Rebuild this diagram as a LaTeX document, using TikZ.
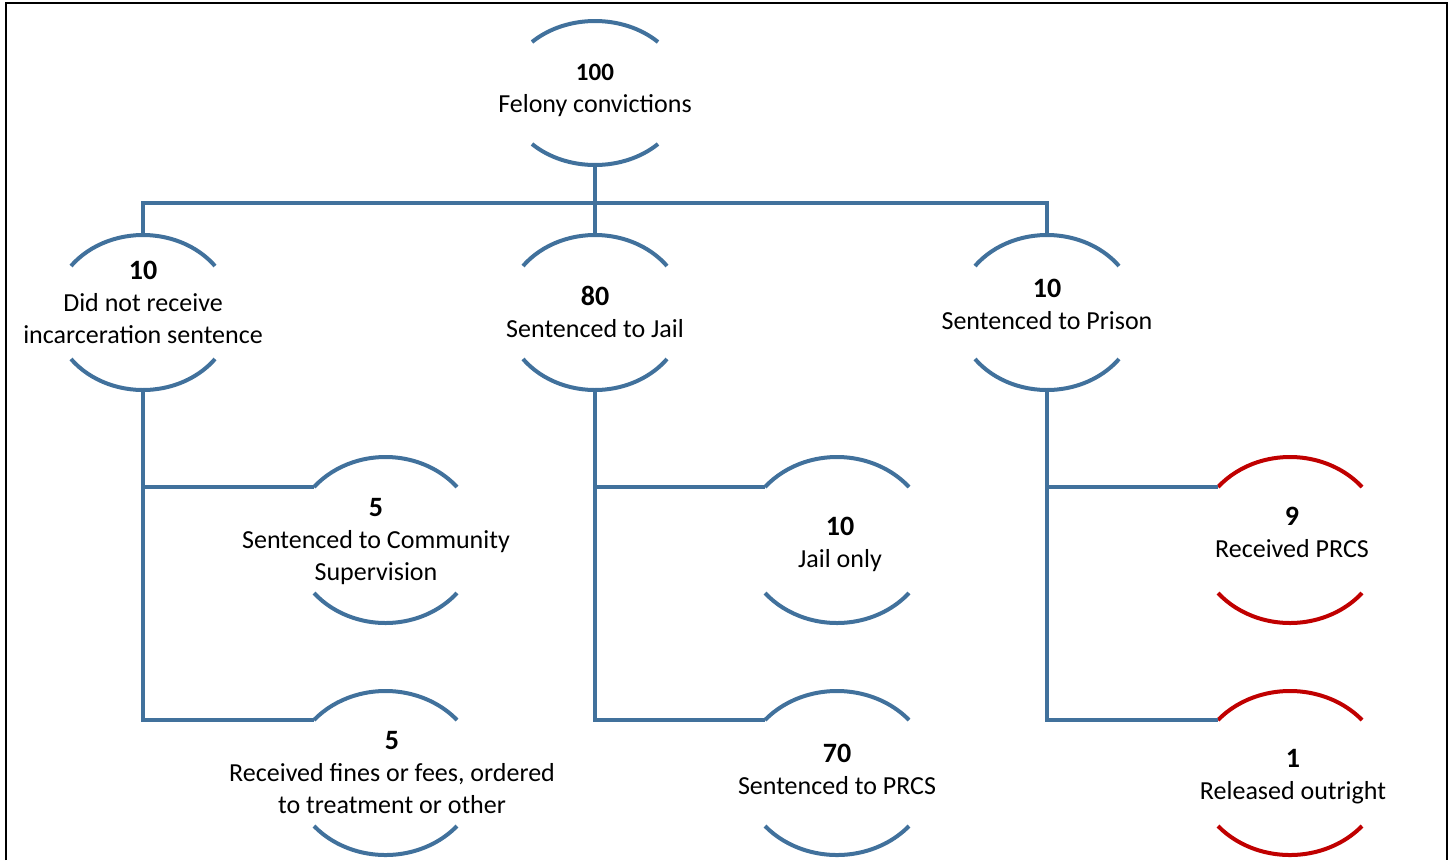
\documentclass[tikz,border=0pt]{standalone}
\usepackage{fontspec}
\setmainfont{Carlito}
\definecolor{arcblue}{RGB}{65,113,156}
\definecolor{arcred}{RGB}{192,0,0}
% name, cx, cy, dx, dy, ry, colour
\newcommand{\halfcirc}[7]{%
  \pgfmathsetmacro{\aang}{asin(#5/#6)}%
  \pgfmathsetmacro{\rxx}{#4/cos(\aang)}%
  \coordinate (#1) at (#2,#3);
  \coordinate (#1-n) at (#2,#3-#6);
  \coordinate (#1-s) at (#2,#3+#6);
  \coordinate (#1-nw) at (#2-#4,#3-#5);
  \coordinate (#1-sw) at (#2-#4,#3+#5);
  \draw[arcline,draw=#7] (#1-nw) arc[start angle=180-\aang, end angle=\aang, x radius=\rxx pt, y radius=#6 pt];
  \draw[arcline,draw=#7] (#1-sw) arc[start angle=180+\aang, end angle=360-\aang, x radius=\rxx pt, y radius=#6 pt];
}
\newcommand{\numb}[1]{{\fontsize{28}{32}\selectfont\bfseries #1}}
\begin{document}
\begin{tikzpicture}[x=1pt,y=-1pt,
  conn/.style={draw=arcblue,line width=4pt},
  arcline/.style={line width=4pt},
  lbl/.style={align=center,font=\fontsize{26}{32}\selectfont,inner sep=0pt,text=black}]
\useasboundingbox (0,0) rectangle (1454,860);
% frame
\draw[line width=2.5pt,black] (6,860) -- (6,3) -- (1447,3) -- (1447,860);
% arc pairs
\halfcirc{t}{595}{93}{63}{51}{72}{arcblue}
\halfcirc{a}{143}{312.5}{72}{46.5}{77.5}{arcblue}
\halfcirc{b}{595}{312.5}{72}{46.5}{77.5}{arcblue}
\halfcirc{c}{1047}{312.5}{72}{46.5}{77.5}{arcblue}
\halfcirc{a1}{385.5}{540}{71.5}{53}{83}{arcblue}
\halfcirc{a2}{385.5}{773}{71.5}{53}{82}{arcblue}
\halfcirc{b1}{837}{540}{72}{53}{83}{arcblue}
\halfcirc{b2}{837}{773}{72}{53}{82}{arcblue}
\halfcirc{c1}{1290}{540}{72}{53}{83}{arcred}
\halfcirc{c2}{1290}{773}{72}{53}{82}{arcred}
% bus
\coordinate (buse) at (1047,203);
\draw[conn] (t-s) -- (b-n);
\draw[conn] (a-n) |- (buse) -- (c-n);
\draw[conn] (a1-nw) -| (a-s);
\draw[conn] (a-s) |- (a2-nw);
\draw[conn] (b1-nw) -| (b-s);
\draw[conn] (b-s) |- (b2-nw);
\draw[conn] (c1-nw) -| (c-s);
\draw[conn] (c-s) |- (c2-nw);
% labels
\node[lbl] (tl) at (595,90) {{\fontsize{25}{32}\selectfont\bfseries 100}\\Felony convictions};
\node[lbl] (al) at (143,302) {\numb{10}\\Did not receive\\incarceration sentence};
\node[lbl] (bl) at (595,312) {\numb{80}\\Sentenced to Jail};
\node[lbl] (cl) at (1047,304) {\numb{10}\\Sentenced to Prison};
\node[lbl] (a1l) at (376,542) {\numb{5}\\Sentenced to Community\\Supervision};
\node[lbl] (a2l) at (392,773) {\numb{5}\\Received fines or fees, ordered\\to treatment or other};
\node[lbl] (b1l) at (840,544.5) {\numb{10}\\Jail only};
\node[lbl] (b2l) at (837,769) {\numb{70}\\Sentenced to PRCS};
\node[lbl] (c1l) at (1292,532.5) {\numb{9}\\Received PRCS};
\node[lbl] (c2l) at (1293,777) {\numb{1}\\Released outright};
\end{tikzpicture}
\end{document}
